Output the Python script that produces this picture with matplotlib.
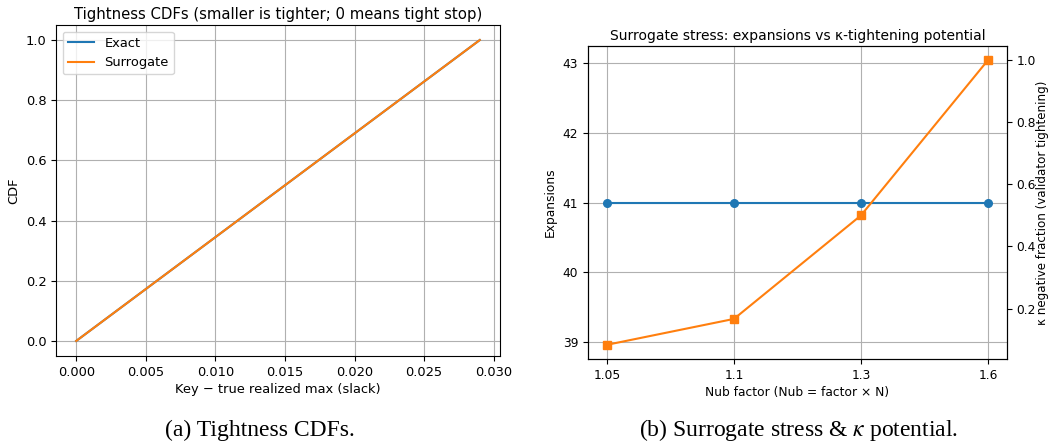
import matplotlib
matplotlib.use("Agg")
import matplotlib.pyplot as plt
from matplotlib.ticker import MultipleLocator

plt.rcParams["mathtext.fontset"] = "stix"

# left panel: tightness CDFs (both curves coincide)
slack_exact = [0.0, 0.029]
cdf_exact = [0.0, 1.0]
slack_surr = [0.0, 0.029]
cdf_surr = [0.0, 1.0]

# right panel: surrogate stress
nub_labels = ["1.05", "1.1", "1.3", "1.6"]
expansions = [41, 41, 41, 41]
kappa_neg = [0.0833, 0.1667, 0.5, 1.0]

fig = plt.figure(figsize=(10.49, 4.44), dpi=100)

# (a) tightness CDFs
ax1 = fig.add_axes([0.0534, 0.1982, 0.4232, 0.7455])
ax1.plot(slack_exact, cdf_exact, color="#1f77b4", label="Exact")
ax1.plot(slack_surr, cdf_surr, color="#ff7f0e", label="Surrogate")
ax1.set_title("Tightness CDFs (smaller is tighter; 0 means tight stop)", fontsize=10.7, pad=4)
ax1.set_xlabel("Key \u2212 true realized max (slack)", fontsize=9.4, labelpad=3)
ax1.set_ylabel("CDF", fontsize=9.4)
ax1.tick_params(labelsize=9.4)
ax1.grid(True)
ax1.legend(loc="upper left", fontsize=9.4)

# (b) expansions vs kappa potential
ax2 = fig.add_axes([0.5605, 0.1914, 0.3994, 0.705])
xpos = list(range(len(nub_labels)))
ax2.plot(xpos, expansions, marker="o", markersize=5.5, color="#1f77b4")
ax2.set_ylim(38.75, 43.25)
ax2.yaxis.set_major_locator(MultipleLocator(1))
ax2.set_xticks(xpos)
ax2.set_xticklabels(nub_labels)
ax2.set_xlabel("Nub factor (Nub = factor \u00d7 N)", fontsize=8.8, labelpad=3)
ax2.set_ylabel("Expansions", fontsize=8.8)
ax2.set_title("Surrogate stress: expansions vs \u03ba-tightening potential", fontsize=10, pad=4)
ax2.tick_params(labelsize=8.8)
ax2.grid(True)

ax3 = ax2.twinx()
ax3.plot(xpos, kappa_neg, marker="s", markersize=5.5, color="#ff7f0e")
ax3.set_ylabel("\u03ba negative fraction (validator tightening)", fontsize=8.6, labelpad=0)
ax3.tick_params(labelsize=8.8)

# captions under the panels
fig.text(0.248, 0.031, "(a) Tightness CDFs.", ha="center", va="center",
         fontsize=17, family="Liberation Serif")
fig.text(0.761, 0.031, "(b) Surrogate stress & $\\kappa$ potential.", ha="center", va="center",
         fontsize=17, family="Liberation Serif")

fig.savefig("out.png", dpi=100)
